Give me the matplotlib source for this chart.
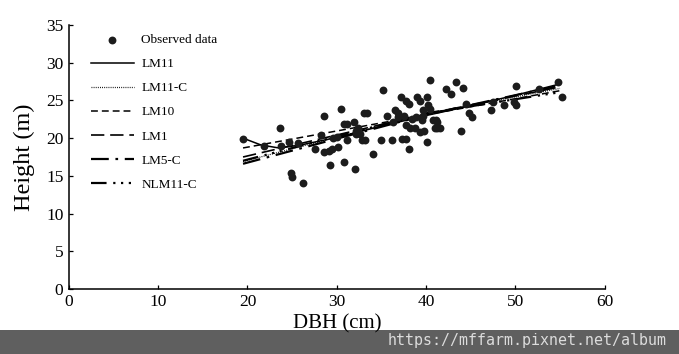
import matplotlib
matplotlib.use("Agg")
import matplotlib.pyplot as plt
from matplotlib.patches import Rectangle

plt.rcParams['font.family'] = ['Liberation Serif', 'DejaVu Serif']

# observed trees
dbh = [19.5, 21.8, 23.6, 23.8, 24.7, 25.7, 24.9, 25.0, 26.2, 28.6,
       28.2, 27.6, 28.6, 29.2, 29.1, 29.5, 30.1, 29.6, 30.0, 30.5,
       30.8, 31.1, 31.9, 30.8, 32.0, 31.1, 32.1, 32.4, 32.2, 32.6,
       33.0, 33.4, 32.8, 33.2, 34.1, 35.2, 35.6, 34.9, 36.2, 36.5,
       36.9, 36.8, 36.3, 37.2, 37.8, 38.1, 37.3, 37.7, 38.1, 39.0,
       39.3, 40.1, 40.2, 40.4, 39.7, 40.4, 40.1, 38.2, 38.8, 39.3,
       39.8, 41.0, 41.2, 41.6, 41.1, 37.7, 38.4, 37.5, 38.9, 39.5,
       39.7, 40.8, 41.2, 42.2, 42.8, 43.4, 44.1, 44.5, 44.8, 45.1,
       43.9, 47.3, 47.5, 48.7, 49.8, 50.1, 50.1, 52.7, 54.8, 55.2]
height = [19.9, 18.9, 21.3, 18.9, 19.5, 19.4, 15.4, 14.8, 14.1, 22.9,
          20.4, 18.5, 18.2, 16.4, 18.3, 18.6, 18.8, 20.0, 20.2, 23.9,
          21.9, 21.9, 22.2, 16.9, 15.9, 19.8, 21.0, 21.3, 20.6, 20.6,
          23.4, 23.4, 19.8, 19.8, 17.9, 26.4, 22.9, 19.8, 19.8, 23.7,
          23.3, 22.8, 22.2, 25.5, 24.9, 24.5, 19.9, 19.9, 18.6, 25.5,
          24.9, 25.5, 24.4, 23.9, 23.7, 27.7, 19.5, 21.3, 21.4, 20.8,
          21.0, 21.3, 21.4, 21.3, 22.4, 21.8, 22.6, 22.9, 22.8, 22.4,
          23.0, 22.4, 22.1, 26.5, 25.8, 27.4, 26.7, 24.5, 23.3, 22.8,
          20.9, 23.8, 24.8, 24.4, 24.8, 24.4, 26.9, 26.5, 27.4, 25.4]

# fitted model curves
lm11_x = [19.5, 21.5, 23.5, 26, 30, 35, 40, 45, 50, 55]
lm11_y = [20.0, 19.1, 18.7, 19.1, 20.1, 21.6, 23.0, 24.3, 25.7, 27.2]
fit_x = [19.5, 40, 55]
lm11c_y = [16.9, 23.2, 26.6]
lm10_y = [18.7, 23.1, 26.3]
lm1_y = [17.5, 23.2, 26.8]
lm5c_y = [16.6, 23.1, 27.0]
nlm11c_y = [17.0, 23.3, 26.1]

xticks = [0, 10, 20, 30, 40, 50, 60]
yticks = [0, 5, 10, 15, 20, 25, 30, 35]

fig = plt.figure(figsize=(6.79, 3.54), dpi=100)
ax = fig.add_axes([0.1015, 0.184, 0.789, 0.745])

ax.scatter(dbh, height, s=32, color='#1c1c1c', linewidths=0, zorder=3,
           label='Observed data')
ax.plot(lm11_x, lm11_y, color='black', lw=1.1, label='LM11')
ax.plot(fit_x, lm11c_y, color='black', lw=0.9, dashes=(0.7, 1.0), label='LM11-C')
ax.plot(fit_x, lm10_y, color='black', lw=1.1, dashes=(4.5, 2.6), label='LM10')
ax.plot(fit_x, lm1_y, color='black', lw=1.2, dashes=(8, 3.5), label='LM1')
ax.plot(fit_x, lm5c_y, color='black', lw=1.6, dashes=(8, 3, 1.2, 3), label='LM5-C')
ax.plot(fit_x, nlm11c_y, color='black', lw=1.6,
        dashes=(7, 3, 1, 2.5, 1, 2.5, 1, 3), label='NLM11-C')

ax.set_xlim(0, 60)
ax.set_ylim(0, 35)
ax.set_xticks(xticks)
ax.set_yticks(yticks)
for s in ['top', 'right']:
    ax.spines[s].set_visible(False)
for s in ['left', 'bottom']:
    ax.spines[s].set_linewidth(1.1)
ax.tick_params(direction='in', length=3, width=0.9, labelsize=12.5, pad=4)
ax.set_xlabel('DBH (cm)', fontsize=15, labelpad=3)
ax.set_ylabel('Height (m)', fontsize=17.5, labelpad=8)

ax.legend(loc='upper left', bbox_to_anchor=(0.032, 0.987), frameon=False,
          fontsize=9.5, handlelength=3.2, handletextpad=0.6, labelspacing=0.9,
          borderaxespad=0, markerscale=1.0, scatterpoints=1)

# watermark strip
fig.patches.append(Rectangle((0, 0), 1, 24 / 354, transform=fig.transFigure,
                             facecolor='#5f5f5f', edgecolor='none', zorder=-1))
fig.text(388 / 679, 1 - 341 / 354, 'https://mffarm.pixnet.net/album',
         family='DejaVu Sans Mono', fontsize=10.8, color='#dcdcdc',
         va='center', ha='left', zorder=5)

fig.savefig('out.png', dpi=100)
